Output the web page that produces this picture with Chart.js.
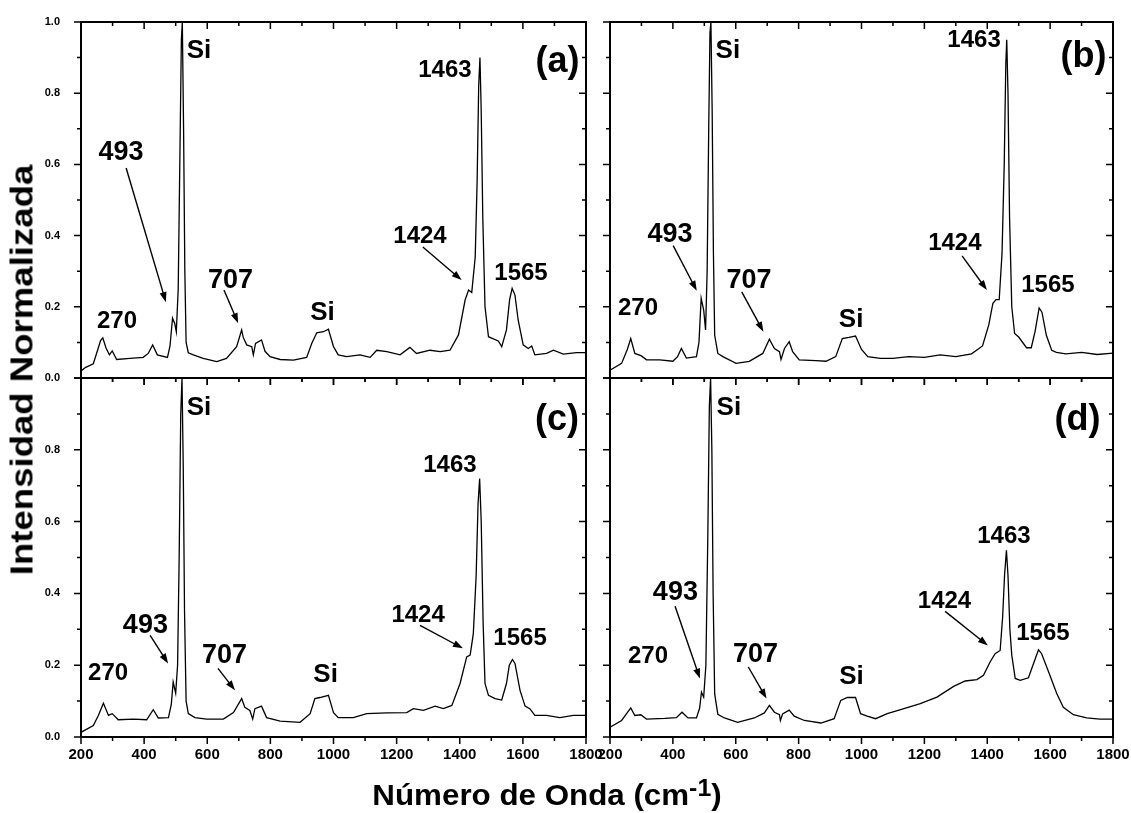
<!DOCTYPE html>
<html>
<head>
<meta charset="utf-8">
<script src="https://cdn.jsdelivr.net/npm/chart.js@4.4.1/dist/chart.umd.min.js"></script>
<style>
  body { margin: 0; background: #fff; width: 1131px; height: 813px; position: relative; overflow: hidden;
         font-family: Arial, "Liberation Sans", sans-serif; }
  canvas { position: absolute; }
  #tituloY { position: absolute; left: 22px; top: 370px; transform: translate(-50%, -50%) rotate(-90deg) scaleX(1.18);
             font-weight: bold; font-size: 31px; line-height: 1; white-space: nowrap; }
  #tituloX { position: absolute; left: 547px; top: 781px; transform: translateX(-50%) scaleX(1.08);
             font-weight: bold; font-size: 29px; line-height: 1; white-space: nowrap; }
  #tituloX span { position: relative; top: -9px; font-size: 23px; }
</style>
</head>
<body>
<canvas id="panelA" width="610" height="395" style="left:0;top:0"></canvas>
<canvas id="panelB" width="541" height="395" style="left:590px;top:0"></canvas>
<canvas id="panelC" width="610" height="453" style="left:0;top:360px"></canvas>
<canvas id="panelD" width="541" height="453" style="left:590px;top:360px"></canvas>
<div id="tituloY">Intensidad Normalizada</div>
<div id="tituloX">Número de Onda (cm<span>-1</span>)</div>

<script>
// Ticks de los ejes
const xMayores = [200, 400, 600, 800, 1000, 1200, 1400, 1600, 1800];
const xMenores = [300, 500, 700, 900, 1100, 1300, 1500, 1700];
const yMayores = [0.0, 0.2, 0.4, 0.6, 0.8, 1.0];
const yMenores = [0.1, 0.3, 0.5, 0.7, 0.9];
const yEtiquetasArriba = [0.0, 0.2, 0.4, 0.6, 0.8, 1.0];
const yEtiquetasAbajo = [0.0, 0.2, 0.4, 0.6, 0.8];

// (a) número de onda / intensidad
const ondaA = [200, 215, 239, 255, 262, 269, 279, 290, 299, 313, 355, 397, 413, 427, 442, 474, 482, 490, 497, 502,
  508, 513, 518, 521, 525, 529, 533, 540, 556, 587, 630, 661, 693, 709, 714, 725, 741, 746, 753, 772, 783, 799, 831,
  873, 915, 931, 947, 968, 984, 1000, 1015, 1042, 1084, 1116, 1137, 1169, 1211, 1242, 1263, 1306, 1338, 1369, 1396,
  1417, 1428, 1438, 1449, 1455, 1460, 1464, 1468, 1473, 1480, 1491, 1501, 1522, 1533, 1548, 1558, 1566, 1575, 1585,
  1601, 1617, 1628, 1638, 1675, 1697, 1728, 1770, 1800];
const intA = [0.02, 0.03, 0.04, 0.085, 0.105, 0.113, 0.085, 0.065, 0.076, 0.052, 0.055, 0.058, 0.069, 0.093, 0.065,
  0.058, 0.09, 0.168, 0.153, 0.13, 0.25, 0.6, 0.95, 1.0, 0.7, 0.3, 0.1, 0.071, 0.065, 0.055, 0.046, 0.055, 0.088,
  0.135, 0.114, 0.093, 0.088, 0.065, 0.097, 0.107, 0.075, 0.06, 0.052, 0.05, 0.058, 0.097, 0.127, 0.13, 0.137, 0.088,
  0.065, 0.06, 0.065, 0.058, 0.078, 0.074, 0.065, 0.086, 0.069, 0.078, 0.074, 0.078, 0.121, 0.219, 0.247, 0.24, 0.34,
  0.55, 0.82, 0.9, 0.75, 0.45, 0.2, 0.116, 0.112, 0.104, 0.088, 0.135, 0.22, 0.252, 0.233, 0.163, 0.093, 0.083, 0.09,
  0.065, 0.069, 0.078, 0.067, 0.071, 0.071];

// (b)
const ondaB = [200, 237, 255, 266, 279, 300, 316, 358, 400, 415, 427, 443, 475, 483, 490, 498, 504, 509, 514, 518,
  521, 525, 529, 533, 543, 559, 601, 643, 686, 707, 723, 739, 744, 755, 770, 781, 802, 855, 887, 918, 939, 960, 981,
  1000, 1020, 1060, 1100, 1150, 1200, 1250, 1300, 1350, 1385, 1405, 1418, 1428, 1438, 1447, 1454, 1459, 1462, 1466,
  1471, 1478, 1487, 1500, 1525, 1540, 1552, 1565, 1574, 1588, 1605, 1620, 1650, 1700, 1750, 1800];
const intB = [0.022, 0.041, 0.08, 0.111, 0.069, 0.062, 0.051, 0.051, 0.047, 0.06, 0.083, 0.056, 0.06, 0.1, 0.224,
  0.191, 0.135, 0.3, 0.7, 0.97, 1.0, 0.75, 0.35, 0.12, 0.069, 0.06, 0.041, 0.047, 0.069, 0.109, 0.083, 0.074, 0.052,
  0.083, 0.102, 0.074, 0.051, 0.049, 0.047, 0.06, 0.111, 0.114, 0.118, 0.08, 0.06, 0.055, 0.055, 0.06, 0.058, 0.065,
  0.06, 0.068, 0.09, 0.15, 0.21, 0.22, 0.22, 0.35, 0.6, 0.88, 0.95, 0.8, 0.45, 0.2, 0.125, 0.115, 0.085, 0.085, 0.13,
  0.197, 0.185, 0.12, 0.078, 0.072, 0.068, 0.072, 0.066, 0.07];

// (c)
const ondaC = [200, 239, 255, 271, 287, 299, 318, 366, 408, 429, 445, 477, 486, 492, 500, 506, 511, 516, 520, 524,
  528, 533, 540, 561, 598, 651, 683, 709, 719, 735, 744, 751, 772, 788, 831, 894, 926, 941, 957, 984, 1000, 1015,
  1063, 1105, 1169, 1232, 1253, 1285, 1322, 1348, 1375, 1401, 1422, 1433, 1443, 1452, 1458, 1463, 1468, 1474, 1480,
  1491, 1512, 1533, 1548, 1557, 1567, 1575, 1591, 1607, 1622, 1638, 1675, 1717, 1760, 1800];
const intC = [0.013, 0.032, 0.06, 0.094, 0.06, 0.065, 0.048, 0.05, 0.048, 0.076, 0.053, 0.054, 0.09, 0.153, 0.122,
  0.2, 0.5, 0.9, 1.0, 0.75, 0.35, 0.1, 0.065, 0.054, 0.05, 0.05, 0.068, 0.107, 0.083, 0.074, 0.05, 0.079, 0.086, 0.054,
  0.044, 0.041, 0.065, 0.107, 0.11, 0.116, 0.068, 0.054, 0.054, 0.065, 0.067, 0.068, 0.079, 0.074, 0.086, 0.079,
  0.088, 0.149, 0.223, 0.228, 0.288, 0.45, 0.65, 0.72, 0.6, 0.32, 0.149, 0.116, 0.107, 0.103, 0.149, 0.2, 0.216,
  0.205, 0.13, 0.086, 0.079, 0.06, 0.06, 0.054, 0.06, 0.06];

// (d)
const ondaD = [200, 237, 266, 279, 298, 316, 374, 411, 429, 448, 475, 485, 491, 498, 505, 511, 516, 520, 524, 528,
  533, 543, 564, 606, 659, 691, 707, 723, 739, 742, 749, 770, 786, 818, 871, 913, 934, 955, 981, 997, 1018, 1045,
  1082, 1135, 1187, 1240, 1293, 1330, 1367, 1388, 1409, 1425, 1441, 1449, 1455, 1461, 1466, 1472, 1478, 1489, 1505,
  1531, 1547, 1563, 1573, 1595, 1621, 1642, 1674, 1716, 1758, 1800];
const intD = [0.027, 0.046, 0.081, 0.06, 0.062, 0.05, 0.052, 0.054, 0.069, 0.053, 0.053, 0.08, 0.125, 0.111, 0.2,
  0.55, 0.92, 1.0, 0.8, 0.4, 0.12, 0.063, 0.053, 0.041, 0.053, 0.067, 0.088, 0.069, 0.062, 0.046, 0.064, 0.075, 0.058,
  0.046, 0.039, 0.051, 0.102, 0.11, 0.11, 0.065, 0.058, 0.051, 0.065, 0.079, 0.093, 0.111, 0.141, 0.156, 0.16, 0.172,
  0.209, 0.232, 0.241, 0.335, 0.45, 0.52, 0.45, 0.3, 0.228, 0.163, 0.158, 0.165, 0.204, 0.243, 0.232, 0.182, 0.121,
  0.083, 0.062, 0.053, 0.05, 0.05];

// Etiquetas de picos: [texto, onda, intensidad, flecha (x1, y1, x2, y2)]
const etiquetasA = [['Si', 574, 0.90], ['270', 314, 0.14], ['493', 327, 0.612, [343, 0.59, 469, 0.213]],
  ['707', 674, 0.253, [653, 0.247, 698, 0.154]], ['Si', 965, 0.163], ['1424', 1274, 0.379, [1283, 0.368, 1406, 0.275]],
  ['1463', 1353, 0.846], ['1565', 1594, 0.275], ['(a)', 1710, 0.86]];
const etiquetasB = [['Si', 575, 0.90], ['270', 289, 0.177], ['493', 391, 0.382, [401, 0.372, 476, 0.245]],
  ['707', 642, 0.253, [619, 0.242, 688, 0.13]], ['Si', 967, 0.143], ['1424', 1297, 0.36, [1320, 0.343, 1399, 0.247]],
  ['1463', 1358, 0.93], ['1565', 1593, 0.242], ['(b)', 1706, 0.874]];
const etiquetasC = [['Si', 574, 0.897], ['270', 286, 0.158], ['493', 404, 0.291, [419, 0.283, 476, 0.205]],
  ['707', 655, 0.205, [634, 0.191, 688, 0.13]], ['Si', 975, 0.153], ['1424', 1268, 0.319, [1274, 0.311, 1410, 0.247]],
  ['1463', 1369, 0.738], ['1565', 1591, 0.255], ['(c)', 1708, 0.855]];
const etiquetasD = [['Si', 578, 0.897], ['270', 321, 0.205], ['493', 408, 0.381, [407, 0.364, 486, 0.163]],
  ['707', 663, 0.208, [640, 0.195, 698, 0.107]], ['Si', 968, 0.149], ['1424', 1264, 0.358, [1266, 0.35, 1402, 0.255]],
  ['1463', 1453, 0.54], ['1565', 1577, 0.269], ['(d)', 1687, 0.855]];

const FUENTE = 'Arial, "Liberation Sans", sans-serif';

function tamanoEtiqueta(texto) {
  if (texto[0] === '(') return 36;
  if (texto === 'Si') return 26;
  if (texto === '493' || texto === '707') return 27;
  return 24;
}

// Marco con ticks en los cuatro lados (como Origin)
const marcoPlugin = {
  id: 'marco',
  afterDatasetsDraw(chart) {
    const { ctx, chartArea: a, scales: { x, y } } = chart;
    ctx.save();
    ctx.strokeStyle = '#000';
    ctx.lineWidth = 2;
    ctx.strokeRect(a.left, a.top, a.right - a.left, a.bottom - a.top);
    ctx.lineWidth = 1.5;
    ctx.beginPath();
    const tickX = (v, len) => {
      const px = x.getPixelForValue(v);
      ctx.moveTo(px, a.bottom); ctx.lineTo(px, a.bottom + len);
      ctx.moveTo(px, a.top); ctx.lineTo(px, a.top + len);
    };
    const tickY = (v, len) => {
      const py = y.getPixelForValue(v);
      ctx.moveTo(a.left, py); ctx.lineTo(a.left - len, py);
      ctx.moveTo(a.right, py); ctx.lineTo(a.right - len, py);
    };
    xMayores.forEach(v => tickX(v, 7));
    xMenores.forEach(v => tickX(v, 4));
    yMayores.forEach(v => tickY(v, 7));
    yMenores.forEach(v => tickY(v, 4));
    ctx.stroke();
    ctx.restore();
  }
};

// Textos de los picos y flechas
const etiquetasPlugin = {
  id: 'etiquetas',
  afterDatasetsDraw(chart, args, opts) {
    const { ctx, scales: { x, y } } = chart;
    ctx.save();
    ctx.fillStyle = '#000';
    ctx.strokeStyle = '#000';
    ctx.textAlign = 'center';
    ctx.textBaseline = 'alphabetic';
    (opts.items || []).forEach(([texto, ox, oy, flecha]) => {
      ctx.font = 'bold ' + tamanoEtiqueta(texto) + 'px ' + FUENTE;
      ctx.fillText(texto, x.getPixelForValue(ox), y.getPixelForValue(oy));
      if (flecha) {
        const x1 = x.getPixelForValue(flecha[0]), y1 = y.getPixelForValue(flecha[1]);
        const x2 = x.getPixelForValue(flecha[2]), y2 = y.getPixelForValue(flecha[3]);
        const ang = Math.atan2(y2 - y1, x2 - x1);
        ctx.lineWidth = 1.4;
        ctx.beginPath();
        ctx.moveTo(x1, y1);
        ctx.lineTo(x2 - 6 * Math.cos(ang), y2 - 6 * Math.sin(ang));
        ctx.stroke();
        ctx.beginPath();
        ctx.moveTo(x2, y2);
        ctx.lineTo(x2 - 10 * Math.cos(ang) + 3.5 * Math.sin(ang), y2 - 10 * Math.sin(ang) - 3.5 * Math.cos(ang));
        ctx.lineTo(x2 - 10 * Math.cos(ang) - 3.5 * Math.sin(ang), y2 - 10 * Math.sin(ang) + 3.5 * Math.cos(ang));
        ctx.closePath();
        ctx.fill();
      }
    });
    ctx.restore();
  }
};

function crearPanel(id, ondas, intensidades, etiquetas, conf) {
  const puntos = ondas.map((o, i) => ({ x: o, y: intensidades[i] }));
  return new Chart(document.getElementById(id), {
    type: 'line',
    data: {
      datasets: [{
        data: puntos,
        borderColor: '#000',
        borderWidth: 1.3,
        pointRadius: 0,
        tension: 0,
        fill: false
      }]
    },
    options: {
      responsive: false,
      animation: false,
      devicePixelRatio: 1,
      layout: { padding: conf.padding },
      plugins: {
        legend: { display: false },
        tooltip: { enabled: false },
        etiquetas: { items: etiquetas }
      },
      scales: {
        x: {
          type: 'linear', min: 200, max: 1800,
          grid: { display: false }, border: { display: false },
          afterBuildTicks: s => { s.ticks = xMayores.map(v => ({ value: v })); },
          ticks: {
            display: conf.etiquetasX, color: '#000', padding: 1, maxRotation: 0, autoSkip: false,
            font: { family: FUENTE, size: 15, weight: 'bold' },
            callback: v => String(v)
          },
          afterFit: s => { s.height = conf.altoX; s.paddingLeft = 0; s.paddingRight = 0; }
        },
        y: {
          min: 0, max: 1,
          grid: { display: false }, border: { display: false },
          afterBuildTicks: s => { s.ticks = (conf.etiquetasY || yMayores).map(v => ({ value: v })); },
          ticks: {
            display: !!conf.etiquetasY, color: '#000', padding: 13,
            font: { family: FUENTE, size: 11, weight: 'bold' },
            callback: v => Number(v).toFixed(1)
          },
          afterFit: s => { s.width = conf.anchoY; s.paddingTop = 0; s.paddingBottom = 0; }
        }
      }
    },
    plugins: [marcoPlugin, etiquetasPlugin]
  });
}

crearPanel('panelA', ondaA, intA, etiquetasA,
  { padding: { left: 0, top: 22, right: 24, bottom: 0 }, anchoY: 81, altoX: 17, etiquetasX: false, etiquetasY: yEtiquetasArriba });
crearPanel('panelB', ondaB, intB, etiquetasB,
  { padding: { left: 0, top: 22, right: 18, bottom: 0 }, anchoY: 20, altoX: 17, etiquetasX: false, etiquetasY: null });
crearPanel('panelC', ondaC, intC, etiquetasC,
  { padding: { left: 0, top: 18, right: 24, bottom: 0 }, anchoY: 81, altoX: 76, etiquetasX: true, etiquetasY: yEtiquetasAbajo });
crearPanel('panelD', ondaD, intD, etiquetasD,
  { padding: { left: 0, top: 18, right: 18, bottom: 0 }, anchoY: 20, altoX: 76, etiquetasX: true, etiquetasY: null });
</script>
</body>
</html>
